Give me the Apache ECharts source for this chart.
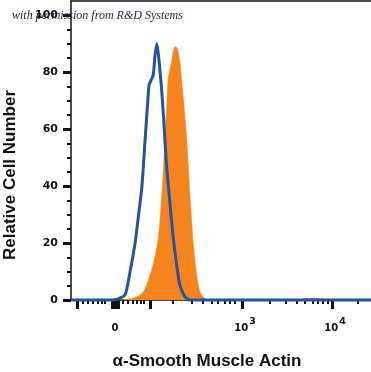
<!DOCTYPE html>
<html>
<head>
<meta charset="utf-8">
<script src="https://cdn.jsdelivr.net/npm/echarts@6/dist/echarts.min.js"></script>
<style>html,body{margin:0;padding:0;background:#fff;}#c{width:371px;height:372px;}</style>
</head>
<body>
<div id="c"></div>
<script>
// x in display channels (0..1000), y in relative cell number
var blueX = [0, 137, 157, 180, 197, 213, 224, 236, 247, 256, 260, 266, 274, 280, 286, 291, 297, 302, 308, 313, 319, 330, 341, 352, 363, 380, 397, 1000];
var blueY = [0, 0, 0.4, 1.8, 10, 19.6, 28.8, 39.5, 56.2, 70, 75.4, 77, 79, 85.8, 90, 86.5, 80, 74, 65, 56.2, 46.6, 33.8, 21.7, 12.5, 5.3, 1.1, 0, 0];
var orangeX = [0, 167, 197, 219, 241, 252, 274, 291, 302, 308, 313, 319, 324, 330, 336, 341, 347, 354, 363, 374, 386, 397, 408, 419, 430, 447, 463, 763, 780, 813, 857, 870, 1000];
var orangeY = [0, 0, 0.4, 1.1, 2.8, 5.3, 12.5, 21.7, 35.9, 45.6, 56.2, 68, 77.6, 81.1, 84, 87.5, 89, 88.3, 83.6, 71.5, 56.2, 35.9, 19.6, 8.9, 2.8, 0.4, 0, 0, 0.6, 0.6, 0.3, 0, 0];
var xLabelValues = [147, 570, 870];
var xLabelTexts = ['0', '10|3', '10|4'];
var xMajorTicks = [20, 137, 143, 150, 157, 263, 570, 870];
var xMinorTicks = [40, 57, 73, 90, 103, 113, 173, 190, 207, 220, 233, 243, 340, 403, 440, 470, 490, 513, 530, 547, 663, 717, 753, 780, 807, 823, 840, 857, 957];
var yLabelValues = [0, 20, 40, 60, 80, 100];
var yMinorTicks = [5, 10, 15, 25, 30, 35, 45, 50, 55, 65, 70, 75, 85, 90, 95];

function pairs(xs, ys) { return xs.map(function (x, i) { return [x, ys[i]]; }); }

var chart = echarts.init(document.getElementById('c'));
var axisFont = { fontFamily: 'DejaVu Sans', fontWeight: 'bold', color: '#111' };
chart.setOption({
  animation: false,
  grid: { left: 71, right: 0, top: 1, bottom: 72 },
  xAxis: [
    {
      type: 'value', min: 0, max: 1000, position: 'bottom',
      axisLine: { show: true, onZero: false, lineStyle: { color: '#111', width: 1.5 } },
      axisTick: { show: true, customValues: xMajorTicks, length: 9, lineStyle: { color: '#111', width: 3 } },
      axisLabel: {
        customValues: xLabelValues, margin: 17,
        formatter: function (v) {
          var i = xLabelValues.indexOf(v);
          var t = i >= 0 ? xLabelTexts[i] : '';
          if (t.indexOf('|') >= 0) {
            var p = t.split('|');
            return '{p|}{b|' + p[0] + '}{s|' + p[1] + '}';
          }
          return '{b|' + t + '}';
        },
        rich: {
          p: { width: 6 },
          b: { fontFamily: 'DejaVu Sans', fontWeight: 'bold', fontSize: 10, color: '#111', lineHeight: 16, verticalAlign: 'bottom' },
          s: { fontFamily: 'DejaVu Sans', fontWeight: 'bold', fontSize: 9.5, color: '#111', lineHeight: 8, verticalAlign: 'top', padding: [0, 0, 0, 1] }
        }
      },
      splitLine: { show: false }
    },
    {
      type: 'value', min: 0, max: 1000, position: 'bottom',
      axisLine: { show: false, onZero: false },
      axisTick: { show: true, customValues: xMinorTicks, length: 4, lineStyle: { color: '#111', width: 2 } },
      axisLabel: { show: false },
      splitLine: { show: false }
    },
    {
      type: 'value', min: 0, max: 1000, position: 'top',
      axisLine: { show: true, onZero: false, lineStyle: { color: '#111', width: 1.5 } },
      axisTick: { show: false }, axisLabel: { show: false }, splitLine: { show: false }
    }
  ],
  yAxis: [
    {
      type: 'value', min: 0, max: 105, position: 'left',
      axisLine: { show: true, onZero: false, lineStyle: { color: '#111', width: 1.5 } },
      axisTick: { show: true, customValues: yLabelValues, length: 8, lineStyle: { color: '#111', width: 3 } },
      axisLabel: Object.assign({ customValues: yLabelValues, margin: 13, fontSize: 11 }, axisFont),
      splitLine: { show: false }
    },
    {
      type: 'value', min: 0, max: 105, position: 'left',
      axisLine: { show: false, onZero: false },
      axisTick: { show: true, customValues: yMinorTicks, length: 4, lineStyle: { color: '#111', width: 2 } },
      axisLabel: { show: false }, splitLine: { show: false }
    }
  ],
  series: [
    {
      type: 'line', xAxisIndex: 0, yAxisIndex: 0, data: pairs(orangeX, orangeY),
      showSymbol: false, smooth: 0.25, clip: false,
      lineStyle: { width: 0.5, color: '#f5841f' },
      areaStyle: { color: '#f5841f', opacity: 1 }, z: 3
    },
    {
      type: 'line', xAxisIndex: 0, yAxisIndex: 0, data: pairs(blueX, blueY),
      showSymbol: false, smooth: 0.25, clip: false,
      lineStyle: { width: 3, color: '#23549f' }, z: 4
    }
  ],
  graphic: [
    {
      type: 'text', left: 12, top: 10, z: 100,
      style: { text: 'with permission from R&D Systems', font: 'italic 12px "Liberation Serif"', fill: '#1c2448' }
    },
    {
      type: 'text', x: 10, y: 175, rotation: Math.PI / 2, z: 100,
      style: { text: 'Relative Cell Number', font: 'bold 17px "Liberation Sans"', fill: '#111', align: 'center', verticalAlign: 'middle' }
    },
    {
      type: 'text', x: 207, y: 361, z: 100,
      style: { text: 'α-Smooth Muscle Actin', font: 'bold 17px "Liberation Sans"', fill: '#111', align: 'center', verticalAlign: 'middle' }
    }
  ]
});
</script>
</body>
</html>
